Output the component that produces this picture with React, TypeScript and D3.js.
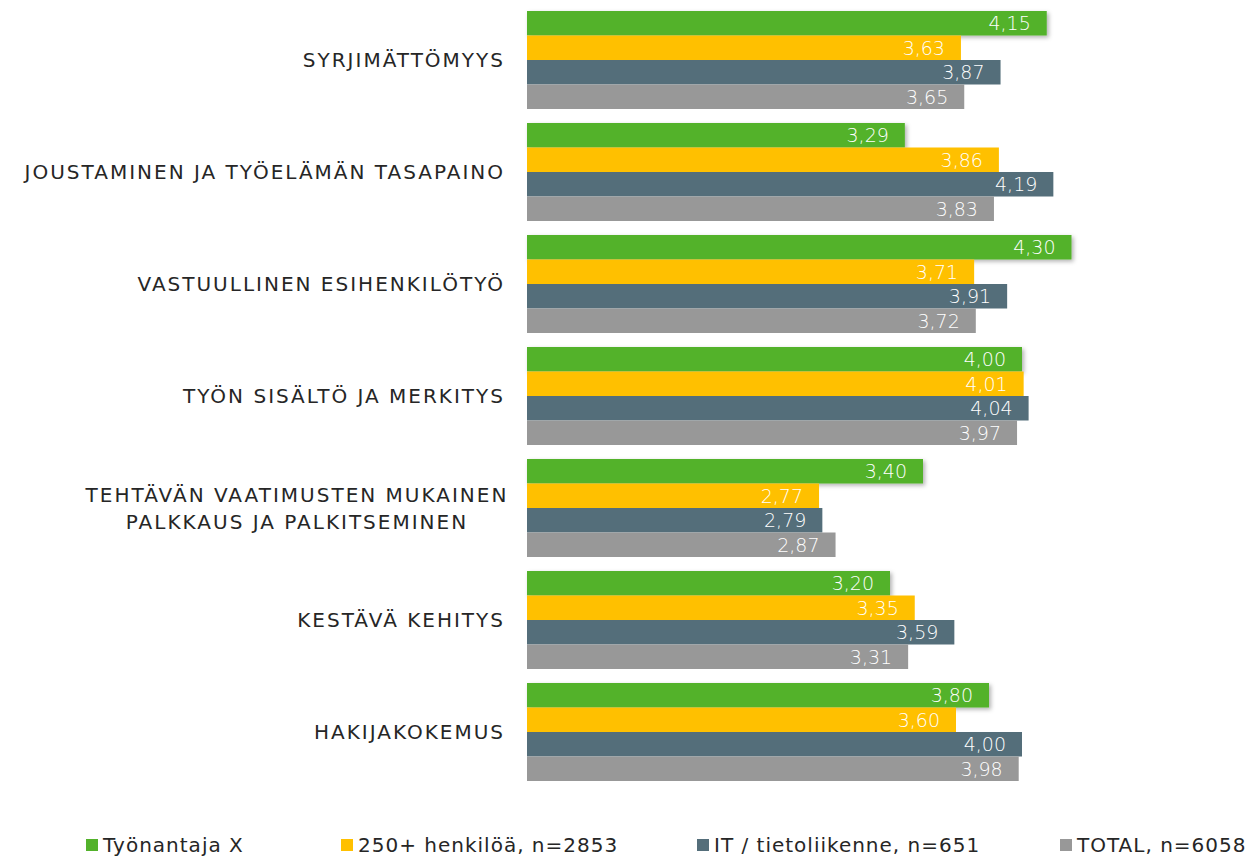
import React from "react";
import * as d3 from "d3";

const categories: string[][] = [
  ["SYRJIMÄTTÖMYYS"],
  ["JOUSTAMINEN JA TYÖELÄMÄN TASAPAINO"],
  ["VASTUULLINEN ESIHENKILÖTYÖ"],
  ["TYÖN SISÄLTÖ JA MERKITYS"],
  ["TEHTÄVÄN VAATIMUSTEN MUKAINEN", "PALKKAUS JA PALKITSEMINEN"],
  ["KESTÄVÄ KEHITYS"],
  ["HAKIJAKOKEMUS"],
];

const seriesNames = [
  "Työnantaja X",
  "250+ henkilöä, n=2853",
  "IT / tietoliikenne, n=651",
  "TOTAL, n=6058",
];

const tyonantajaX = [4.15, 3.29, 4.3, 4.0, 3.4, 3.2, 3.8];
const henkiloa250 = [3.63, 3.86, 3.71, 4.01, 2.77, 3.35, 3.6];
const itTietoliikenne = [3.87, 4.19, 3.91, 4.04, 2.79, 3.59, 4.0];
const total = [3.65, 3.83, 3.72, 3.97, 2.87, 3.31, 3.98];

const seriesValues = [tyonantajaX, henkiloa250, itTietoliikenne, total];
const colors = ["#53b22b", "#ffc000", "#546e7a", "#989898"];

const W = 1251;
const H = 858;
const FONT = "'DejaVu Sans', sans-serif";
const legendX = [86, 341, 697, 1060];

export default function App() {
  const x = d3.scaleLinear().domain([1, 5]).range([527, 1187]);
  const y = d3
    .scaleBand<number>()
    .domain(d3.range(categories.length))
    .range([4, 788])
    .paddingInner(0.125)
    .paddingOuter(0.0625);
  const inner = d3
    .scaleBand<number>()
    .domain(d3.range(seriesNames.length))
    .range([0, y.bandwidth()]);
  const fmt = (v: number) => d3.format(".2f")(v).replace(".", ",");

  return (
    <svg
      width={W}
      height={H}
      style={{ position: "absolute", left: 0, top: 0, background: "#fff" }}
      fontFamily={FONT}
    >
      <defs>
        <filter id="shadow" x="-5%" y="-30%" width="110%" height="170%">
          <feDropShadow dx="2" dy="2" stdDeviation="2" floodColor="#000" floodOpacity="0.3" />
        </filter>
      </defs>
      {categories.map((lines, ci) => {
        const cy = (y(ci) as number) + y.bandwidth() / 2;
        const lh = 27;
        return (
          <g key={ci}>
            {seriesValues.map((vals, si) => {
              const by = (y(ci) as number) + (inner(si) as number);
              const bw = x(vals[ci]) - x(1);
              return (
                <g key={si}>
                  <rect
                    x={x(1)}
                    y={by}
                    width={bw}
                    height={inner.bandwidth()}
                    fill={colors[si]}
                    filter={si === 0 ? "url(#shadow)" : undefined}
                  />
                  <text
                    x={x(vals[ci]) - 16}
                    y={by + inner.bandwidth() / 2}
                    dy="0.37em"
                    textAnchor="end"
                    fill="#fff"
                    fontSize={19}
                    fontWeight={200}
                  >
                    {fmt(vals[ci])}
                  </text>
                </g>
              );
            })}
            {lines.map((ln, li) => (
              <text
                key={li}
                x={lines.length > 1 ? 297 : 505}
                y={cy + (li - (lines.length - 1) / 2) * lh}
                dy="0.37em"
                textAnchor={lines.length > 1 ? "middle" : "end"}
                fill="#262626"
                fontSize={20}
                letterSpacing={2}
              >
                {ln}
              </text>
            ))}
          </g>
        );
      })}
      {seriesNames.map((name, si) => (
        <g key={si} transform={`translate(${legendX[si]},845)`}>
          <rect x={0} y={-6} width={12} height={12} fill={colors[si]} />
          <text x={17} y={0} dy="0.37em" fill="#262626" fontSize={20} letterSpacing={1}>
            {name}
          </text>
        </g>
      ))}
    </svg>
  );
}
